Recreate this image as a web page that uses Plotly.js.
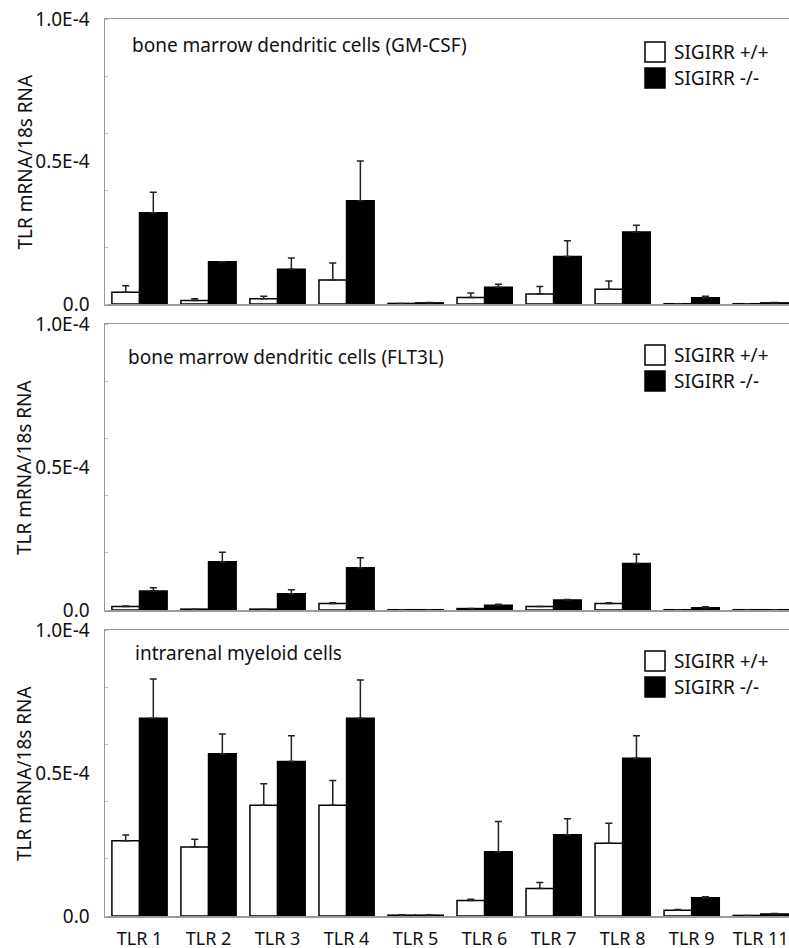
<!DOCTYPE html>
<html>
<head>
<meta charset="utf-8">
<script src="https://cdn.plot.ly/plotly-3.0.1.min.js"></script>
<style>html,body{margin:0;padding:0;background:#fff;}#chart{width:789px;height:948px;}</style>
</head>
<body>
<div id="chart"></div>
<script>
// Values are in units of 1E-4 (TLR mRNA / 18s RNA)
const categories = ['TLR 1','TLR 2','TLR 3','TLR 4','TLR 5','TLR 6','TLR 7','TLR 8','TLR 9','TLR 11'];
const seriesNames = ['SIGIRR +/+', 'SIGIRR -/-'];
const seriesFill = ['#ffffff', '#000000'];
const panelTitles = ['bone marrow dendritic cells (GM-CSF)', 'bone marrow dendritic cells (FLT3L)', 'intrarenal myeloid cells'];
const yTickVals = [0, 0.5e-4, 1.0e-4];
const yTickText = ['0.0', '0.5E-4', '1.0E-4'];
const yTitle = 'TLR mRNA/18s RNA';

// Panel 1: GM-CSF
const gmWT     = [0.041, 0.012, 0.018, 0.084, 0.002, 0.023, 0.035, 0.052, 0.001, 0.001];
const gmWTErr  = [0.023, 0.006, 0.009, 0.060, 0.000, 0.016, 0.026, 0.029, 0.000, 0.000];
const gmKO     = [0.320, 0.148, 0.122, 0.362, 0.004, 0.059, 0.167, 0.253, 0.022, 0.004];
const gmKOErr  = [0.072, 0.000, 0.039, 0.140, 0.001, 0.010, 0.055, 0.023, 0.005, 0.001];
// Panel 2: FLT3L
const flWT     = [0.012, 0.003, 0.003, 0.023, 0.001, 0.005, 0.012, 0.023, 0.001, 0.001];
const flWTErr  = [0.002, 0.000, 0.000, 0.002, 0.000, 0.000, 0.000, 0.002, 0.000, 0.000];
const flKO     = [0.066, 0.169, 0.057, 0.148, 0.001, 0.017, 0.035, 0.163, 0.008, 0.001];
const flKOErr  = [0.012, 0.033, 0.014, 0.035, 0.000, 0.003, 0.002, 0.032, 0.003, 0.000];
// Panel 3: intrarenal myeloid cells
const irWT     = [0.263, 0.241, 0.387, 0.387, 0.003, 0.054, 0.096, 0.254, 0.020, 0.002];
const irWTErr  = [0.020, 0.027, 0.075, 0.087, 0.001, 0.005, 0.021, 0.070, 0.003, 0.000];
const irKO     = [0.691, 0.567, 0.540, 0.691, 0.003, 0.225, 0.284, 0.552, 0.064, 0.007];
const irKOErr  = [0.138, 0.069, 0.090, 0.134, 0.001, 0.105, 0.056, 0.078, 0.003, 0.002];

const UNIT = 1e-4;
const sc = a => a.map(v => v * UNIT);

const FONT = 'Noto Sans, Open Sans, DejaVu Sans, sans-serif';
const panels = [
  {wt: gmWT, wtE: gmWTErr, ko: gmKO, koE: gmKOErr},
  {wt: flWT, wtE: flWTErr, ko: flKO, koE: flKOErr},
  {wt: irWT, wtE: irWTErr, ko: irKO, koE: irKOErr}
];

const traces = [];
panels.forEach((p, i) => {
  const sfx = i === 0 ? '' : String(i + 1);
  traces.push({
    type: 'bar', name: seriesNames[0], x: categories, y: sc(p.wt),
    xaxis: 'x' + sfx, yaxis: 'y' + sfx, showlegend: false,
    marker: {color: seriesFill[0], line: {color: '#000000', width: 1.5}},
    error_y: {type: 'data', array: sc(p.wtE), arrayminus: p.wtE.map(() => 0), symmetric: false,
              color: '#222222', thickness: 1.5, width: 3.5}
  });
  traces.push({
    type: 'bar', name: seriesNames[1], x: categories, y: sc(p.ko),
    xaxis: 'x' + sfx, yaxis: 'y' + sfx, showlegend: false,
    marker: {color: seriesFill[1], line: {color: '#000000', width: 1.5}},
    error_y: {type: 'data', array: sc(p.koE), arrayminus: p.koE.map(() => 0), symmetric: false,
              color: '#222222', thickness: 1.5, width: 3.5}
  });
});

const W = 789, H = 948, ML = 105, MR = 0, MT = 19, MB = 32;
const plotH = H - MT - MB; // 897
const plotW = W - ML - MR;
const pyToPaper = py => (H - MB - py) / plotH;
const pxToPaper = px => (px - ML) / plotW;

const domains = [
  [pyToPaper(304), 1],
  [pyToPaper(610), pyToPaper(324)],
  [0, pyToPaper(630)]
];

const layout = {
  width: W, height: H,
  margin: {l: ML, r: MR, t: MT, b: MB},
  paper_bgcolor: '#ffffff', plot_bgcolor: '#ffffff',
  font: {family: FONT, color: '#111111', size: 18},
  barmode: 'group', bargap: 0.2, bargroupgap: 0,
  showlegend: false,
  annotations: [], shapes: []
};

// legend key placement (pixels): box top of first entry in each panel
const legBoxTop = [42, 345, 651];
const legBoxLeft = 645, legBox = 20, legRow = 26, legTextLeft = 672;

domains.forEach((d, i) => {
  const sfx = i === 0 ? '' : String(i + 1);
  layout['xaxis' + sfx] = {
    domain: [0, 1], anchor: 'y' + sfx,
    range: [-0.5, 9.41], type: 'category',
    showline: true, linecolor: '#9a9a9a', linewidth: 1.5, mirror: true,
    ticks: '', showgrid: false, zeroline: false,
    showticklabels: i === 2,
    tickfont: {family: FONT, size: 18, color: '#111'},
    ticklabelstandoff: 6
  };
  layout['yaxis' + sfx] = {
    domain: d, anchor: 'x' + sfx,
    range: [0, 1.0e-4], fixedrange: true,
    tickmode: 'array', tickvals: yTickVals, ticktext: yTickText,
    ticks: '', showgrid: false, zeroline: false,
    showline: true, linecolor: '#9a9a9a', linewidth: 1.5,
    tickfont: {family: FONT, size: 19, color: '#111'},
    ticklabelstandoff: 10,
    minor: {tickmode: 'linear', tick0: 0, dtick: 0.2e-4, ticks: 'inside', ticklen: 3, tickcolor: '#bbbbbb', tickwidth: 1}
  };
  layout.annotations.push({
    xref: 'paper', yref: 'paper',
    x: pxToPaper([130, 126, 133][i]), y: pyToPaper([45, 357, 653][i]),
    xanchor: 'left', yanchor: 'middle', showarrow: false,
    text: panelTitles[i], font: {family: FONT, size: 19, color: '#111'}
  });
  layout.annotations.push({
    xref: 'paper', yref: 'paper',
    x: pxToPaper(24), y: (d[0] + d[1]) / 2,
    xanchor: 'center', yanchor: 'middle', showarrow: false, textangle: -90,
    text: yTitle, font: {family: FONT, size: 19, color: '#111'}
  });
  // legend key for this panel
  seriesNames.forEach((nm, k) => {
    const top = legBoxTop[i] + k * legRow;
    layout.shapes.push({
      type: 'rect', xref: 'paper', yref: 'paper',
      x0: pxToPaper(legBoxLeft), x1: pxToPaper(legBoxLeft + legBox),
      y0: pyToPaper(top), y1: pyToPaper(top + legBox),
      fillcolor: seriesFill[k], line: {color: '#000000', width: 1.5}
    });
    layout.annotations.push({
      xref: 'paper', yref: 'paper',
      x: pxToPaper(legTextLeft), y: pyToPaper(top + legBox / 2),
      xanchor: 'left', yanchor: 'middle', showarrow: false,
      text: nm, font: {family: FONT, size: 19, color: '#111'}
    });
  });
});

Plotly.newPlot('chart', traces, layout, {displayModeBar: false, staticPlot: true});
</script>
</body>
</html>
